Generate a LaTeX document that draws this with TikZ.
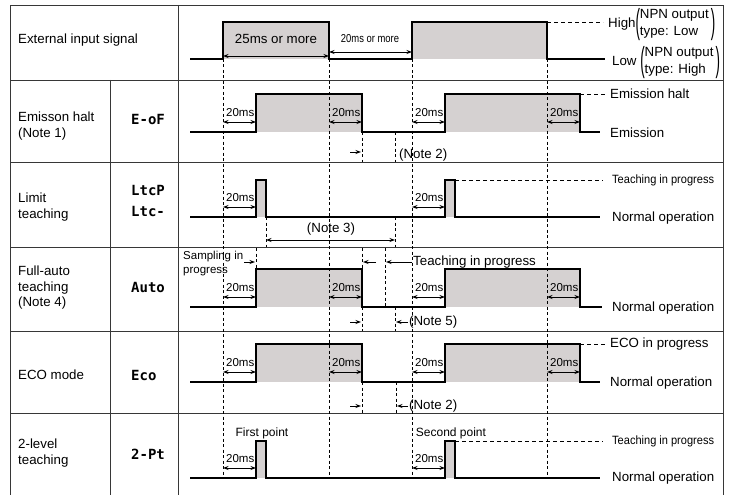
\documentclass[tikz,border=0pt]{standalone}
\usepackage{fontspec}
\usepackage{graphicx}
\setmainfont{Liberation Sans}
\newfontfamily\segfont{DejaVu Sans Mono}
\usetikzlibrary{arrows.meta}
\definecolor{pulsegray}{RGB}{213,209,209}
\definecolor{rulegray}{RGB}{55,55,55}
\renewcommand{\arraystretch}{1.1}
\newcommand{\tallparen}[1]{\raisebox{-5.7pt}{\scalebox{1}[2.6]{#1}}}

\begin{document}
\begin{tikzpicture}[x=1pt,y=-1pt,>={Stealth[length=5.5pt,width=4pt]},
    every node/.style={inner sep=0pt,font=\fontsize{13.3}{15.5}\selectfont},
    tiny/.style={font=\fontsize{11.5}{14}\selectfont},
    narrow/.style={font=\fontsize{12}{14}\selectfont},
    code/.style={font=\segfont\bfseries\fontsize{14}{21}\selectfont},
    rule/.style={draw=rulegray,line width=0.9pt},
    sig/.style={line width=1.3pt},
    shade/.style={fill=pulsegray},
    guide/.style={line width=0.8pt,dash pattern=on 3pt off 2.5pt},
    level/.style={line width=0.8pt,dash pattern=on 4pt off 3pt},
    dim/.style={line width=0.8pt}]
    \useasboundingbox (0,0) rectangle (729,495);

    % table frame
    \draw[rule] (10,495) -- (10,5) -- (723,5) -- (723,495);
    \foreach \y in {80,162,247,331,413}
        \draw[rule] (10,\y) -- (723,\y);
    \draw[rule] (110,80) -- (110,495);
    \draw[rule] (178,5) -- (178,495);

    % row titles
    \node[anchor=west] at (18,40) (rowext) {External input signal};
    \node[anchor=west,align=left] at (18,126) (rowhalt) {Emisson halt\\(Note 1)};
    \node[anchor=west,align=left] at (18,207) (rowlimit) {Limit\\teaching};
    \node[anchor=west,align=left] at (18,288) (rowauto) {Full-auto\\teaching\\(Note 4)};
    \node[anchor=west] at (18,375) (roweco) {ECO mode};
    \node[anchor=west,align=left] at (18,453) (rowtwo) {2-level\\teaching};

    % display codes
    \node[code,anchor=west] at (131,119) (dispeof) {E-oF};
    \node[code,anchor=west,align=left] at (131,201) (displtc) {LtcP\\Ltc-};
    \node[code,anchor=west] at (131,287) (dispauto) {Auto};
    \node[code,anchor=west] at (131,375) (dispeco) {Eco};
    \node[code,anchor=west] at (131,454) (disp2pt) {2-Pt};

    % shaded high periods
    \fill[shade] (223,22) rectangle (329,59);
    \fill[shade] (412,22) rectangle (547,59);
    \foreach \hi/\lo in {94/132,269/307,344/382} {
        \fill[shade] (256,\hi) rectangle (362,\lo);
        \fill[shade] (445,\hi) rectangle (580,\lo);
    }
    \foreach \hi/\lo in {180/217,441/478} {
        \fill[shade] (256,\hi) rectangle (266,\lo);
        \fill[shade] (445,\hi) rectangle (455,\lo);
    }

    % timing guides
    \foreach \t in {223,329,412,547}
        \draw[guide] (\t,59) -- (\t,478);

    % signals
    \draw[sig] (190,59) -- (223,59) -- (223,22) -- (329,22) -- (329,59)
        -- (412,59) -- (412,22) -- (547,22) -- (547,59) -- (605,59);
    \foreach \hi/\lo/\e in {94/132/600,269/307/602,344/382/600}
        \draw[sig] (190,\lo) -- (256,\lo) -- (256,\hi) -- (362,\hi) -- (362,\lo)
            -- (445,\lo) -- (445,\hi) -- (580,\hi) -- (580,\lo) -- (\e,\lo);
    \foreach \hi/\lo in {180/217,441/478}
        \draw[sig] (190,\lo) -- (256,\lo) -- (256,\hi) -- (266,\hi) -- (266,\lo)
            -- (445,\lo) -- (445,\hi) -- (455,\hi) -- (455,\lo) -- (600,\lo);

    % level extensions
    \draw[level] (547,22) -- (603,22);
    \draw[level] (580,94) -- (605,94);
    \draw[level] (455,180) -- (603,180);
    \draw[level] (580,344) -- (605,344);
    \draw[level] (455,441) -- (603,441);

    % 20ms delays
    \foreach \lo in {132,307,382}
        \foreach \t in {223,329,412,547} {
            \draw[dim,<->] (\t,\lo-10) -- (\t+33,\lo-10);
            \node[tiny,anchor=west] at (\t+3,\lo-19) (ms\lo-\t) {20ms};
        }
    \foreach \lo in {217,478}
        \foreach \t in {223,412} {
            \draw[dim,<->] (\t,\lo-10) -- (\t+33,\lo-10);
            \node[tiny,anchor=west] at (\t+3,\lo-19) (ms\lo-\t) {20ms};
        }

    % input pulse widths
    \draw[dim,<->] (223,56) -- (329,56);
    \draw[dim,<->] (329,52) -- (412,52);
    \node at (276,39) (span25) {25ms or more};
    \node[tiny] at (370,39) (span20) {\scalebox{0.82}[1]{20ms or more}};

    % emission halt note
    \draw[guide] (362,132) -- (362,162);
    \draw[guide] (395,132) -- (395,162);
    \draw[dim,->] (350,152) -- (361,152);
    \node[anchor=west] at (399,155) (note2a) {(Note 2)};

    % limit teaching note
    \draw[guide] (266,217) -- (266,247);
    \draw[guide] (395,217) -- (395,247);
    \draw[dim,<->] (266,240) -- (395,240);
    \node at (331,229) (note3) {(Note 3)};

    % full-auto teaching notes
    \node[tiny,anchor=west,align=left] at (183,264) (sampling) {Sampling in\\progress};
    \draw[guide] (256,248) -- (256,269);
    \draw[dim,->] (244,262) -- (255,262);
    \draw[guide] (362,248) -- (362,269);
    \draw[dim,->] (376,262) -- (363,262);
    \draw[guide] (385,248) -- (385,307);
    \draw[dim,->] (412,262) -- (386,262);
    \node[anchor=west] at (413,262) (teachauto) {Teaching in progress};
    \draw[guide] (362,307) -- (362,331);
    \draw[guide] (395,307) -- (395,331);
    \draw[dim,->] (350,322) -- (361,322);
    \draw[dim,->] (408,322) -- (396,322);
    \node[anchor=west] at (409,322) (note5) {(Note 5)};

    % eco mode note
    \draw[guide] (362,382) -- (362,413);
    \draw[guide] (396,382) -- (396,413);
    \draw[dim,->] (350,406) -- (361,406);
    \draw[dim,->] (408,406) -- (397,406);
    \node[anchor=west] at (409,406) (note2b) {(Note 2)};

    % 2-level teaching points
    \node[narrow] at (262,433) (first) {First point};
    \node[narrow] at (451,433) (second) {Second point};

    % level names
    \node[anchor=west] at (608,24) (high) {High\tallparen(\begin{tabular}{@{}l@{}}NPN output\\type: Low\end{tabular}\,\tallparen)};
    \node[anchor=west] at (612,62) (low) {Low \tallparen(\begin{tabular}{@{}l@{}}NPN output\\type: High\end{tabular}\,\tallparen)};
    \node[anchor=west] at (610,94) (lvlhalt) {Emission halt};
    \node[anchor=west] at (610,133) (lvlemit) {Emission};
    \node[narrow,anchor=west] at (612,180) (lvlteach) {\scalebox{0.92}[1]{Teaching in progress}};
    \node[anchor=west] at (612,218) (lvlnorma) {Normal operation};
    \node[anchor=west] at (612,308) (lvlnormb) {Normal operation};
    \node[anchor=west] at (610,344) (lvleco) {ECO in progress};
    \node[anchor=west] at (610,383) (lvlnormc) {Normal operation};
    \node[narrow,anchor=west] at (612,441) (lvlteachb) {\scalebox{0.92}[1]{Teaching in progress}};
    \node[anchor=west] at (612,478) (lvlnormd) {Normal operation};
\end{tikzpicture}
\end{document}
